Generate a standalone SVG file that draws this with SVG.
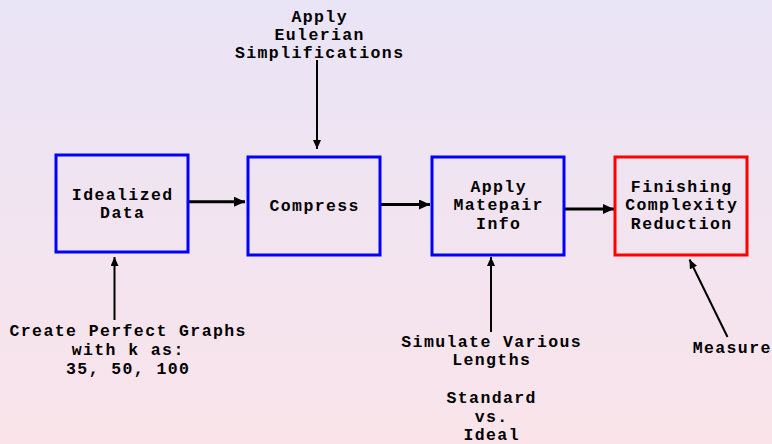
<svg xmlns="http://www.w3.org/2000/svg" width="772" height="444" viewBox="0 0 772 444">
  <defs>
    <linearGradient id="bg" x1="0" y1="0" x2="0" y2="1">
      <stop offset="0" stop-color="#E9E4F6"/>
      <stop offset="1" stop-color="#FAE4EA"/>
    </linearGradient>
    <marker id="ah" markerUnits="userSpaceOnUse" markerWidth="11" markerHeight="10" refX="11" refY="5" orient="auto">
      <path d="M0,0 L11,5 L0,10 z" fill="#000"/>
    </marker>
    <marker id="av" markerUnits="userSpaceOnUse" markerWidth="9" markerHeight="8" refX="9" refY="4" orient="auto">
      <path d="M0,0 L9,4 L0,8 z" fill="#000"/>
    </marker>
  </defs>
  <style>
    text { font-family: "Liberation Mono", "Courier New", monospace; font-weight: bold; font-size: 16.5px; letter-spacing: 1.4px; fill: #000; text-anchor: middle; }
    .box { fill: none; stroke-width: 3; }
    .blue { stroke: #0000FF; }
    .red { stroke: #FF0000; }
    .h { stroke: #000; stroke-width: 3; fill: none; marker-end: url(#ah); }
    .v { stroke: #000; stroke-width: 2; fill: none; marker-end: url(#av); }
  </style>
  <rect x="0" y="0" width="772" height="444" fill="url(#bg)"/>

  <g id="connectors">
    <path class="h" d="M189,201.7 L245,201.7"/>
    <path class="h" d="M381,204.5 L430,204.5"/>
    <path class="h" d="M565,209 L614,209"/>
    <path class="v" d="M317,60 L317,149"/>
    <path class="v" d="M114.5,320 L114.5,257"/>
    <path class="v" d="M491,332 L491,257"/>
    <path class="v" d="M727.5,337 L689.5,259.5"/>
  </g>

  <g id="idealized-data">
    <rect class="box blue" x="56" y="155" width="132" height="97"/>
    <text x="122.7" y="199.5">Idealized</text>
    <text x="122.7" y="218">Data</text>
  </g>

  <g id="compress">
    <rect class="box blue" x="248" y="157" width="132" height="98"/>
    <text x="314.7" y="210.7">Compress</text>
  </g>

  <g id="apply-matepair">
    <rect class="box blue" x="432" y="157" width="132" height="98"/>
    <text x="498.7" y="191.7">Apply</text>
    <text x="498.7" y="210.3">Matepair</text>
    <text x="498.7" y="229">Info</text>
  </g>

  <g id="finishing">
    <rect class="box red" x="615" y="157" width="132" height="98"/>
    <text x="681.7" y="191.7">Finishing</text>
    <text x="681.7" y="210.3">Complexity</text>
    <text x="681.7" y="229">Reduction</text>
  </g>

  <g id="eulerian">
    <text x="319.7" y="21.5">Apply</text>
    <text x="319.7" y="40">Eulerian</text>
    <text x="319.7" y="58.3">Simplifications</text>
  </g>

  <g id="create-graphs">
    <text x="128.2" y="336.3">Create Perfect Graphs</text>
    <text x="128.2" y="355">with k as:</text>
    <text x="128.2" y="374">35, 50, 100</text>
  </g>

  <g id="simulate">
    <text x="491.7" y="346.7">Simulate Various</text>
    <text x="491.7" y="365.3">Lengths</text>
    <text x="491.7" y="403.3">Standard</text>
    <text x="491.7" y="421.7">vs.</text>
    <text x="491.7" y="440">Ideal</text>
  </g>

  <g id="measure">
    <text x="732.2" y="353">Measure</text>
  </g>
</svg>
